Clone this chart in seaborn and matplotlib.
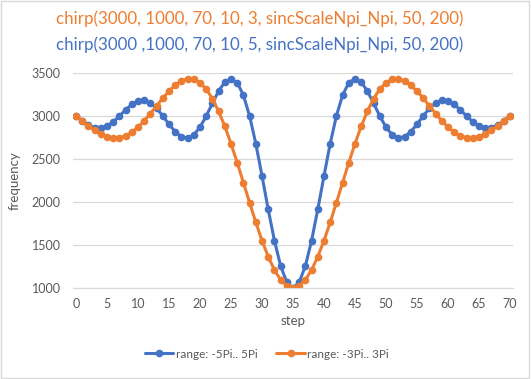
import matplotlib
matplotlib.use("Agg")
import matplotlib.pyplot as plt
import seaborn as sns
import pandas as pd
from matplotlib.patches import Rectangle
from matplotlib.lines import Line2D

steps = list(range(71))

blue_half = [3000, 2943, 2894, 2864, 2860, 2884, 2933, 3000, 3072, 3134, 3174, 3181,
             3151, 3088, 3000, 2903, 2817, 2759, 2744, 2782, 2871, 3000, 3149, 3290,
             3395, 3434, 3387, 3242, 3000, 2678, 2303, 1914, 1552, 1258, 1066, 1000]
orange_half = [3000, 2942, 2885, 2832, 2789, 2759, 2744, 2748, 2770, 2812, 2871, 2945,
               3029, 3119, 3208, 3290, 3359, 3409, 3433, 3427, 3387, 3312, 3201, 3055,
               2879, 2678, 2457, 2225, 1991, 1763, 1552, 1365, 1210, 1095, 1024, 1000]
blue_vals = blue_half + blue_half[-2::-1]
orange_vals = orange_half + orange_half[-2::-1]

series_names = ["range: -5Pi.. 5Pi", "range: -3Pi.. 3Pi"]
colors = ["#4472C4", "#ED7D31"]
title_orange = "chirp(3000, 1000, 70, 10, 3, sincScaleNpi_Npi, 50, 200)"
title_blue = "chirp(3000 ,1000, 70, 10, 5, sincScaleNpi_Npi, 50, 200)"
yticks = [1000, 1500, 2000, 2500, 3000, 3500]
xticks = list(range(0, 71, 5))

df = pd.DataFrame({
    "step": steps + steps,
    "frequency": blue_vals + orange_vals,
    "series": [series_names[0]] * 71 + [series_names[1]] * 71,
})

sns.set_style("white")
plt.rcParams["font.family"] = ["Lato", "DejaVu Sans"]

fig = plt.figure(figsize=(5.31, 3.79), dpi=100)
ax = fig.add_axes([73 / 531, 1 - 288 / 379, (513 - 73) / 531, (288 - 73) / 379])

sns.lineplot(data=df, x="step", y="frequency", hue="series", hue_order=series_names,
             palette=colors, marker="o", markersize=5.5, markeredgewidth=0,
             linewidth=2.2, ax=ax, legend=False)

ax.set_xlim(-0.5, 70.5)
ax.set_ylim(1000, 3500)
ax.set_yticks(yticks)
ax.set_xticks(xticks)
ax.grid(axis="y", color="#D9D9D9", linewidth=0.9)
ax.set_axisbelow(True)
for s in ["top", "right", "left"]:
    ax.spines[s].set_visible(False)
ax.spines["bottom"].set_color("#D9D9D9")
ax.tick_params(axis="both", length=0, labelsize=9, colors="#595959")
ax.tick_params(axis="y", pad=9)
ax.tick_params(axis="x", pad=7)
ax.set_xlabel("step", fontsize=9.5, color="#595959", labelpad=4)
ax.set_ylabel("frequency", fontsize=9.5, color="#595959", labelpad=8)

fig.text(260 / 531, 1 - 19 / 379, title_orange, color=colors[1], fontsize=12.2,
         ha="center", va="center")
fig.text(260 / 531, 1 - 45 / 379, title_blue, color=colors[0], fontsize=12.2,
         ha="center", va="center")

handles = [Line2D([0], [0], color=c, marker="o", markersize=5.5, markeredgewidth=0,
                  linewidth=2.2) for c in colors]
fig.legend(handles, series_names, loc="center", bbox_to_anchor=(267 / 531, 1 - 354 / 379),
           ncol=2, frameon=False, fontsize=8.5, labelcolor="#595959",
           handlelength=2.4, handletextpad=0.2, columnspacing=1.6)

fig.add_artist(Rectangle((0.002, 0.003), 0.994, 0.994, transform=fig.transFigure,
                         fill=False, edgecolor="#D9D9D9", linewidth=1))

fig.savefig("out.png", dpi=100)
